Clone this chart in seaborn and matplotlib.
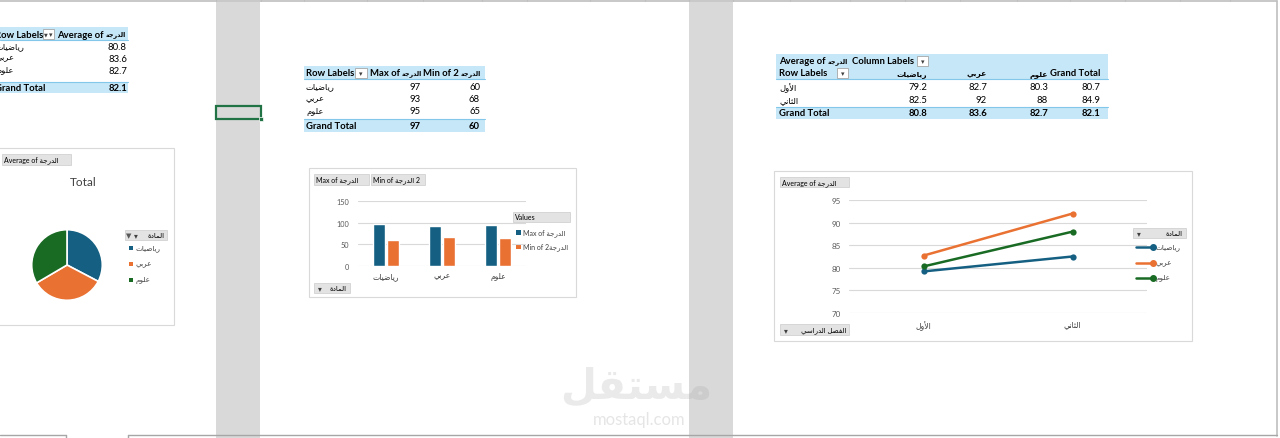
import matplotlib
matplotlib.use('Agg')
import pandas as pd
import matplotlib.pyplot as plt
from matplotlib.patches import Rectangle
import seaborn as sns

sns.set_theme(style='white')
plt.rcParams['font.family'] = ['Lato', 'DejaVu Sans']
plt.rcParams['axes.unicode_minus'] = False

# Data
subjects = ['رياضيات', 'عربي', 'علوم']
avg_by_subject = [80.8, 83.6, 82.7]
avg_grand_total = 82.1
max_by_subject = [97, 93, 95]
min_by_subject = [60, 68, 65]
max_grand_total = 97
min_grand_total = 60
semesters = ['الأول', 'الثاني']
avg_first_sem = [79.2, 82.7, 80.3]
avg_second_sem = [82.5, 92, 88]
avg_by_semester = [80.7, 84.9]
subject_colors = ['#156082', '#E97132', '#196B24']
bar_colors = ['#156082', '#E97132']

# --- minimal arabic shaping (matplotlib draws glyphs left to right, no joining) ---
FORMS = {
    'أ': (0xFE83, 0xFE84), 'ا': (0xFE8D, 0xFE8E), 'ة': (0xFE93, 0xFE94),
    'د': (0xFEA9, 0xFEAA), 'ر': (0xFEAD, 0xFEAE), 'و': (0xFEED, 0xFEEE),
    'ب': (0xFE8F, 0xFE90, 0xFE91, 0xFE92), 'ت': (0xFE95, 0xFE96, 0xFE97, 0xFE98),
    'ث': (0xFE99, 0xFE9A, 0xFE9B, 0xFE9C), 'ج': (0xFE9D, 0xFE9E, 0xFE9F, 0xFEA0),
    'س': (0xFEB1, 0xFEB2, 0xFEB3, 0xFEB4), 'ص': (0xFEB9, 0xFEBA, 0xFEBB, 0xFEBC),
    'ض': (0xFEBD, 0xFEBE, 0xFEBF, 0xFEC0), 'ع': (0xFEC9, 0xFECA, 0xFECB, 0xFECC),
    'ف': (0xFED1, 0xFED2, 0xFED3, 0xFED4), 'ق': (0xFED5, 0xFED6, 0xFED7, 0xFED8),
    'ل': (0xFEDD, 0xFEDE, 0xFEDF, 0xFEE0), 'م': (0xFEE1, 0xFEE2, 0xFEE3, 0xFEE4),
    'ن': (0xFEE5, 0xFEE6, 0xFEE7, 0xFEE8), 'ي': (0xFEF1, 0xFEF2, 0xFEF3, 0xFEF4),
}
LAM_ALEF = {'ا': (0xFEFB, 0xFEFC), 'أ': (0xFEF7, 0xFEF8)}


def ar(word):
    out = []
    i = 0
    n = len(word)
    while i < n:
        c = word[i]
        if c not in FORMS:
            out.append(c)
            i += 1
            continue
        prev = word[i - 1] if i > 0 else ''
        link_prev = prev in FORMS and len(FORMS[prev]) == 4
        if c == 'ل' and i + 1 < n and word[i + 1] in LAM_ALEF:
            lig = LAM_ALEF[word[i + 1]]
            out.append(chr(lig[1] if link_prev else lig[0]))
            i += 2
            continue
        nxt = word[i + 1] if i + 1 < n else ''
        f = FORMS[c]
        link_next = len(f) == 4 and nxt in FORMS
        if link_prev and link_next:
            code = f[3]
        elif link_prev:
            code = f[1]
        elif link_next:
            code = f[2]
        else:
            code = f[0]
        out.append(chr(code))
        i += 1
    return ''.join(reversed(out))


DARAJA = ar('الدرجة')
MADDA = ar('المادة')
subj_disp = [ar(s) for s in subjects]
sem_disp = [ar(s) for s in semesters]

# --- canvas in pixel coordinates ---
W, H = 1280, 439
fig = plt.figure(figsize=(12.8, 4.39), dpi=100)
fig.patch.set_facecolor('white')
bg = fig.add_axes([0, 0, 1, 1])
bg.set_xlim(0, W)
bg.set_ylim(H, 0)
bg.axis('off')
renderer = fig.canvas.get_renderer()

HDR = '#c6e7f7'
HLINE = '#83c8ea'
GRID = '#d9d9d9'
TICK = '#595959'
FS = 6.8    # table text
AFS = 6.0   # arabic row labels
HAFS = 4.6  # arabic field name inside headers


def px_axes(x0, y0, x1, y1):
    return fig.add_axes([x0 / W, 1 - y1 / H, (x1 - x0) / W, (y1 - y0) / H])


def rect(x0, y0, x1, y1, fc, ec='none', lw=0.8, z=1):
    bg.add_patch(Rectangle((x0, y0), x1 - x0, y1 - y0, facecolor=fc,
                           edgecolor=ec, linewidth=lw, zorder=z))


def txt(x, y, s, ha='left', size=FS, bold=False, color='black', z=5):
    return bg.text(x, y, s, ha=ha, va='center', fontsize=size, color=color, zorder=z,
                   fontweight='bold' if bold else 'normal')


def width(t):
    return t.get_window_extent(renderer=renderer).width


def mixed(x, y, latin, arabic, ha='left'):
    # bold latin caption followed by a small arabic field name
    if ha == 'left':
        t = txt(x, y, latin, bold=True)
        txt(x + width(t) + 2, y, arabic, size=HAFS, bold=True)
    else:
        t = txt(x, y, arabic, ha='right', size=HAFS, bold=True)
        txt(x - width(t) - 2, y, latin, ha='right', bold=True)


def dropdown(x0, y0, x1, y1, filt=False):
    rect(x0, y0, x1, y1, 'white', '#a6a6a6', 0.6, 6)
    txt((x0 + x1) / 2 + (1.8 if filt else 0), (y0 + y1) / 2, '▾', ha='center', size=5, color='#404040', z=7)
    if filt:
        txt(x0 + 3, (y0 + y1) / 2, '▼', ha='center', size=3.5, color='#404040', z=7)


def button(x0, y0, x1, y1, label, arrow=False, filt=False):
    rect(x0, y0, x1, y1, '#e3e3e3', '#cccccc', 0.5, 6)
    ym = (y0 + y1) / 2
    if arrow:
        if filt:
            txt(x0 + 4, ym, '▼', ha='center', size=5, color='#595959', z=7)
            txt(x0 + 11, ym, '▾', ha='center', size=5.5, color='#404040', z=7)
        else:
            txt(x0 + 6, ym, '▾', ha='center', size=5.5, color='#404040', z=7)
        txt(x1 - 3, ym, label, ha='right', size=5, z=7)
    else:
        txt(x0 + 2, ym, label, size=5, z=7)


def fmt(v):
    return f'{v:g}'


# sheet chrome: column header line, grey hidden columns, selected cell, bottom bar
bg.plot([0, 1277], [2, 2], color='#bfbfbf', lw=1.2, zorder=2)
for cx in [216, 261, 304, 367, 423, 482, 527, 590, 645, 689, 733, 790, 850, 905, 960, 1017, 1070, 1125, 1180, 1230]:
    bg.plot([cx, cx], [0, 2], color='#bfbfbf', lw=0.8, zorder=2)
rect(216, 3, 260, 439, '#d9d9d9', z=1)
rect(689, 3, 733, 439, '#d9d9d9', z=1)
rect(215.5, 106.5, 260.5, 120, 'none', '#217346', 1.6, 4)
rect(258.5, 118, 262.5, 122, '#217346', 'white', 0.5, 4)
bg.plot([1277, 1277], [2, 437], color='#bfbfbf', lw=1.2, zorder=2)
bg.plot([0, 66], [436.5, 436.5], color='#a6a6a6', lw=1, zorder=2)
bg.plot([128, 1277], [436.5, 436.5], color='#a6a6a6', lw=1, zorder=2)
bg.plot([66, 66], [436.5, 439], color='#a6a6a6', lw=1, zorder=2)
bg.plot([128, 128], [436.5, 439], color='#a6a6a6', lw=1, zorder=2)

# === Table 1: Average by subject ===
rect(0, 28, 128, 41, HDR, z=2)
bg.plot([0, 128], [41, 41], color=HLINE, lw=0.8, zorder=3)
txt(-5, 35, 'Row Labels', bold=True)
dropdown(43, 29.5, 54, 40, filt=True)
mixed(57, 35, 'Average of', DARAJA)
for i, (s, v) in enumerate(zip(subj_disp, avg_by_subject)):
    y = 47 + i * 12
    txt(-4, y, s, size=AFS)
    txt(127, y, fmt(v), ha='right')
rect(0, 83, 128, 94, HDR, z=2)
bg.plot([0, 128], [83, 83], color=HLINE, lw=0.8, zorder=3)
txt(-5, 88.5, 'Grand Total', bold=True)
txt(127, 88.5, fmt(avg_grand_total), ha='right', bold=True)

# === Table 2: Max / Min by subject ===
rect(304, 67, 485, 80, HDR, z=2)
bg.plot([304, 485], [80, 80], color=HLINE, lw=0.8, zorder=3)
txt(306, 74, 'Row Labels', bold=True)
dropdown(355, 68.5, 367, 79)
mixed(422, 74, 'Max of', DARAJA, ha='right')
mixed(481, 74, 'Min of 2', DARAJA, ha='right')
for i, s in enumerate(subj_disp):
    y = 87 + i * 12.5
    txt(306, y, s, size=AFS)
    txt(421, y, fmt(max_by_subject[i]), ha='right')
    txt(480, y, fmt(min_by_subject[i]), ha='right')
rect(304, 120, 485, 133, HDR, z=2)
bg.plot([304, 485], [120, 120], color=HLINE, lw=0.8, zorder=3)
txt(306, 127, 'Grand Total', bold=True)
txt(421, 127, fmt(max_grand_total), ha='right', bold=True)
txt(480, 127, fmt(min_grand_total), ha='right', bold=True)

# === Table 3: Average by semester x subject ===
rect(776, 55, 1108, 80, HDR, z=2)
bg.plot([776, 1108], [80, 80], color=HLINE, lw=0.8, zorder=3)
mixed(779, 61.5, 'Average of', DARAJA)
txt(852, 61.5, 'Column Labels', bold=True)
dropdown(917, 56.5, 928, 67)
txt(779, 74, 'Row Labels', bold=True)
dropdown(837, 68.5, 848, 79)
col_x = [927, 987, 1048, 1100]
for s, cx in zip(subj_disp, col_x):
    txt(cx, 74, s, ha='right', size=AFS - 0.6, bold=True)
txt(col_x[3], 74, 'Grand Total', ha='right', bold=True)
for r, (s, vals, tot) in enumerate(zip(sem_disp, [avg_first_sem, avg_second_sem], avg_by_semester)):
    y = 88 + r * 13
    txt(779, y, s, size=AFS)
    for v, cx in zip(vals + [tot], col_x):
        txt(cx, y, fmt(v), ha='right')
rect(776, 108, 1108, 120, HDR, z=2)
bg.plot([776, 1108], [108, 108], color=HLINE, lw=0.8, zorder=3)
txt(779, 114, 'Grand Total', bold=True)
for v, cx in zip(avg_by_subject + [avg_grand_total], col_x):
    txt(cx, 114, fmt(v), ha='right', bold=True)

# === Chart 1: pie ===
rect(-2, 149, 174, 326, 'white', GRID, 0.8, 2)
button(2, 155, 71, 166, 'Average of ' + DARAJA)
txt(83, 183, 'Total', ha='center', size=8.5, color='#404040')
ax_pie = px_axes(31, 230, 103, 302)
ax_pie.pie(avg_by_subject, colors=subject_colors, startangle=90, counterclock=False,
           radius=1, wedgeprops=dict(edgecolor='white', linewidth=1.2))
ax_pie.set_xlim(-1.02, 1.02)
ax_pie.set_ylim(-1.02, 1.02)
ax_pie.set_aspect('equal')
ax_pie.axis('off')
button(125, 231, 167, 241, MADDA, arrow=True, filt=True)
for i, s in enumerate(subj_disp):
    y = 249 + i * 16
    rect(129, y - 2, 133, y + 2, subject_colors[i], z=6)
    txt(135, y, s, size=5.2, color='#404040')

# === Chart 2: bars (max / min) ===
rect(309, 169, 576, 298, 'white', GRID, 0.8, 2)
button(314, 175, 369, 186, 'Max of ' + DARAJA)
button(371, 175, 425, 186, 'Min of ' + DARAJA + ' 2')
stat_names = ['Max of ' + DARAJA, 'Min of 2' + DARAJA]
bar_df = pd.DataFrame({
    'subject': subj_disp * 2,
    'stat': [stat_names[0]] * 3 + [stat_names[1]] * 3,
    'value': max_by_subject + min_by_subject,
})
ax_bar = px_axes(358, 202, 526, 267)
sns.barplot(data=bar_df, x='subject', y='value', hue='stat', hue_order=stat_names,
            palette=bar_colors, width=0.52, gap=0.15, saturation=1, legend=False, ax=ax_bar)
ax_bar.set_facecolor('none')
ax_bar.set_ylim(0, 150)
ax_bar.set_yticks([0, 50, 100, 150])
ax_bar.yaxis.grid(True, color=GRID, lw=0.8)
ax_bar.set_axisbelow(True)
ax_bar.set_xlabel('')
ax_bar.set_ylabel('')
sns.despine(ax=ax_bar, left=True, bottom=True)
ax_bar.tick_params(axis='y', length=0, pad=6.5, labelsize=5.3, labelcolor=TICK)
ax_bar.tick_params(axis='x', length=0, pad=4.5, labelsize=5.5, labelcolor='#404040')
button(513, 213, 570, 223, 'Values')
for i, s in enumerate(stat_names):
    y = 233 + i * 14
    rect(516, y - 2.5, 521, y + 2.5, bar_colors[i], z=6)
    txt(523, y, s, size=5, color='#404040')
button(314, 284, 350, 294, MADDA, arrow=True)

# === Chart 3: lines by semester ===
rect(774, 172, 1192, 342, 'white', GRID, 0.8, 2)
button(780, 178, 849, 188, 'Average of ' + DARAJA)
line_df = pd.DataFrame({
    'semester': sem_disp * 3,
    'subject': [s for s in subj_disp for _ in sem_disp],
    'value': [v for pair in zip(avg_first_sem, avg_second_sem) for v in pair],
})
ax_line = px_axes(849, 201, 1147, 314)
sns.lineplot(data=line_df, x='semester', y='value', hue='subject', hue_order=subj_disp,
             palette=subject_colors, marker='o', markersize=4.5, markeredgewidth=0,
             linewidth=1.8, sort=False, legend=False, ax=ax_line)
ax_line.set_facecolor('none')
ax_line.set_xlim(-0.5, 1.5)
ax_line.set_ylim(70, 95)
ax_line.set_yticks([70, 75, 80, 85, 90, 95])
ax_line.yaxis.grid(True, color=GRID, lw=0.8)
ax_line.xaxis.grid(False)
ax_line.set_axisbelow(True)
ax_line.set_xlabel('')
ax_line.set_ylabel('')
sns.despine(ax=ax_line, left=True, bottom=True)
ax_line.tick_params(axis='y', length=0, pad=6, labelsize=5.8, labelcolor=TICK)
ax_line.tick_params(axis='x', length=0, pad=5, labelsize=5.5, labelcolor='#404040')
button(1133, 229, 1186, 239, MADDA, arrow=True)
for i, s in enumerate(subj_disp):
    y = 248 + i * 15.5
    bg.plot([1136, 1153], [y, y], color=subject_colors[i], lw=1.8, zorder=6)
    bg.plot([1153], [y], 'o', color=subject_colors[i], ms=4, zorder=6)
    txt(1156, y, s, size=5.2, color='#404040')
button(780, 325, 849, 336, ar('الفصل الدراسي'), arrow=True)

# watermark
bg.text(636, 386, ar('مستقل'), ha='center', va='center', fontsize=30, fontweight='bold',
        family='DejaVu Sans', color='#9a9a9a', alpha=0.2, zorder=8)
bg.text(639, 420, 'mostaql.com', ha='center', va='center', fontsize=12,
        color='#9a9a9a', alpha=0.25, zorder=8)

fig.savefig('out.png', dpi=100, facecolor='white')
